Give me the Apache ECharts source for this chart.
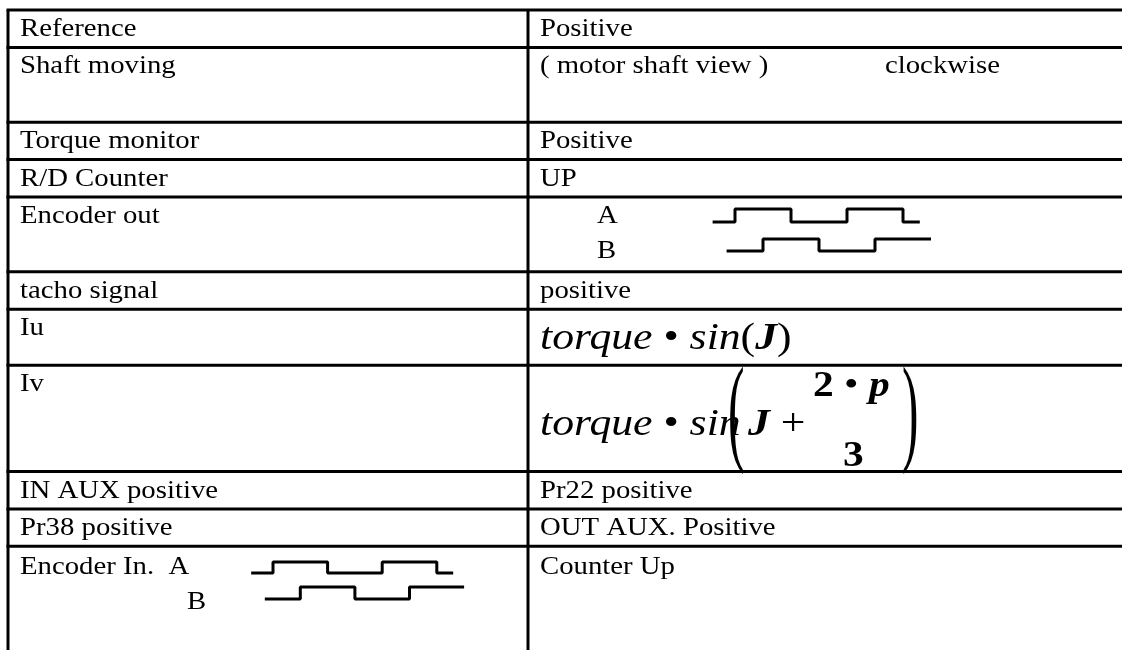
<!DOCTYPE html>
<html><head><meta charset="utf-8">
<script src="https://cdn.jsdelivr.net/npm/echarts@6/dist/echarts.min.js"></script>
<style>html,body{margin:0;padding:0;background:#fff}#c{width:1122px;height:650px}</style>
</head><body><div id="c"></div>
<script>
// ---- table content ----
const rowLabels = ['Reference', 'Shaft moving', 'Torque monitor', 'R/D Counter', 'Encoder out',
  'tacho signal', 'Iu', 'Iv', 'IN AUX positive', 'Pr38 positive', 'Encoder In.  A'];
const rowValues = ['Positive', '( motor shaft view )', 'Positive', 'UP', 'A',
  'positive', 'torque • sin(J)', 'torque • sin(J + 2 • p / 3)', 'Pr22 positive', 'OUT AUX. Positive', 'Counter Up'];
const rowExtra = ['', 'clockwise', '', '', 'B', '', '', '', '', '', 'B'];
// row heights, in text lines
const rowSpans = [1, 2, 1, 1, 2, 1, 1.5, 2.84, 1, 1, 3];
// quadrature waveforms: time in quarter periods, logic level
const waveT_A = [-0.8, 0, 2, 4, 6, 6.6];
const waveLevel_A = [0, 1, 0, 1, 0, 0];
const waveT_B = [-0.3, 1, 3, 5, 7];
const waveLevel_B = [0, 1, 0, 1, 1];

const SERIF = '"Liberation Serif", "Times New Roman", serif';
const SX = 1.15;
const FS = 25;

const cum = [0];
rowSpans.forEach((s, i) => cum.push(cum[i] + s));
const rowData = rowSpans.map((s, i) => [cum[i], cum[i + 1], i]);

function txt(x, y, text, extra) {
  return Object.assign({
    type: 'text', x: x, y: y, scaleX: SX, originX: 0, originY: 0,
    style: { text: text, fontFamily: SERIF, fontSize: FS, fill: '#000', align: 'left', verticalAlign: 'top' }
  }, extra || {});
}
const richF = {
  i: { fontFamily: SERIF, fontSize: 38, fontStyle: 'italic' },
  n: { fontFamily: SERIF, fontSize: 38 },
  b: { fontFamily: SERIF, fontSize: 38, fontStyle: 'italic', fontWeight: 'bold' },
  B: { fontFamily: SERIF, fontSize: 36, fontWeight: 'bold' },
  bi: { fontFamily: SERIF, fontSize: 36, fontStyle: 'italic', fontWeight: 'bold' },
  m: { fontFamily: SERIF, fontSize: 36 }
};
function rich(x, y, text, extra) {
  return Object.assign({
    type: 'text', x: x, y: y, scaleX: SX,
    style: { text: text, fontFamily: SERIF, fontSize: 38, fill: '#000', align: 'left', verticalAlign: 'top', rich: richF }
  }, extra || {});
}

function renderRow(params, api) {
  const start = api.value(0), end = api.value(1), idx = api.value(2);
  const pTL = api.coord([0, start]);
  const pMid = api.coord([1, start]);
  const pBL = api.coord([0, end]);
  const right = params.coordSys.x + params.coordSys.width;
  const x0 = pTL[0], xm = pMid[0], yT = pTL[1], yB = pBL[1];
  const ls = { stroke: '#000', lineWidth: 3 };
  const ch = [
    { type: 'line', shape: { x1: x0 - 1.5, y1: yT, x2: right, y2: yT }, style: ls },
    { type: 'line', shape: { x1: x0, y1: yT, x2: x0, y2: yB }, style: ls },
    { type: 'line', shape: { x1: xm, y1: yT, x2: xm, y2: yB }, style: ls }
  ];
  const lx = x0 + 12, rx = xm + 12;
  const label = rowLabels[idx], val = rowValues[idx], ex = rowExtra[idx];
  if (idx === 10) {
    ch.push(txt(lx, yT + 9, label));
    ch.push(txt(x0 + 179, yT + 44, ex));
    ch.push(txt(rx, yT + 9, val));
  } else if (idx === 4) {
    ch.push(txt(lx, yT + 7, label));
    ch.push(txt(xm + 69, yT + 7, val));
    ch.push(txt(xm + 69, yT + 42, ex));
  } else if (idx === 6) {
    ch.push(txt(lx, yT + 7, label));
    ch.push(rich(rx, yT + 11, '{i|torque} {n|•} {i|sin}{n|(}{b|J}{n|)}'));
  } else if (idx === 7) {
    ch.push(txt(lx, yT + 7, label));
    ch.push(rich(rx, yT + 41, '{i|torque} {n|•} {i|sin}'));
    ch.push(rich(xm + 200, yT - 7, '{n|(}', { scaleX: 1.3, scaleY: 3.12 }));
    ch.push(rich(xm + 220, yT + 41, '{b|J} {n|+}', {}));
    ch.push(rich(xm + 285, yT + 3, '{B|2}{m| •}{bi| p}'));
    ch.push(rich(xm + 315, yT + 73, '{B|3}'));
    ch.push(rich(xm + 374, yT - 7, '{n|)}', { scaleX: 1.3, scaleY: 3.12 }));
  } else {
    ch.push(txt(lx, yT + 7, label));
    ch.push(txt(rx, yT + 7, val));
    if (ex) ch.push(txt(xm + 357, yT + 7, ex));
  }
  return { type: 'group', children: ch };
}

function waveSeries(k, T, L) {
  return {
    type: 'line', xAxisIndex: k, yAxisIndex: k, step: 'end', symbol: 'none', clip: false, silent: true,
    lineStyle: { color: '#000', width: 3 },
    data: T.map((t, i) => [t, L[i]])
  };
}

const waveGrids = [
  { left: 707, width: 224, top: 209, height: 13 },
  { left: 707, width: 224, top: 239, height: 12 },
  { left: 245.7, width: 218.4, top: 562, height: 11 },
  { left: 245.7, width: 218.4, top: 587, height: 12 }
];

const chart = echarts.init(document.getElementById('c'), null, { renderer: 'canvas' });
chart.setOption({
  animation: false,
  backgroundColor: '#fff',
  grid: [{ left: 8, right: 0, top: 10, bottom: 0 }].concat(waveGrids),
  xAxis: [{ type: 'value', min: 0, max: 1114 / 520, show: false, gridIndex: 0 }].concat(
    waveGrids.map((g, i) => ({ type: 'value', min: -1, max: 7, show: false, gridIndex: i + 1 }))),
  yAxis: [{ type: 'value', min: 0, max: 640 / 37.4, inverse: true, show: false, gridIndex: 0 }].concat(
    waveGrids.map((g, i) => ({ type: 'value', min: 0, max: 1, show: false, gridIndex: i + 1 }))),
  series: [
    { type: 'custom', xAxisIndex: 0, yAxisIndex: 0, renderItem: renderRow, data: rowData, silent: true, clip: false },
    waveSeries(1, waveT_A, waveLevel_A),
    waveSeries(2, waveT_B, waveLevel_B),
    waveSeries(3, waveT_A, waveLevel_A),
    waveSeries(4, waveT_B, waveLevel_B)
  ]
});
</script></body></html>
